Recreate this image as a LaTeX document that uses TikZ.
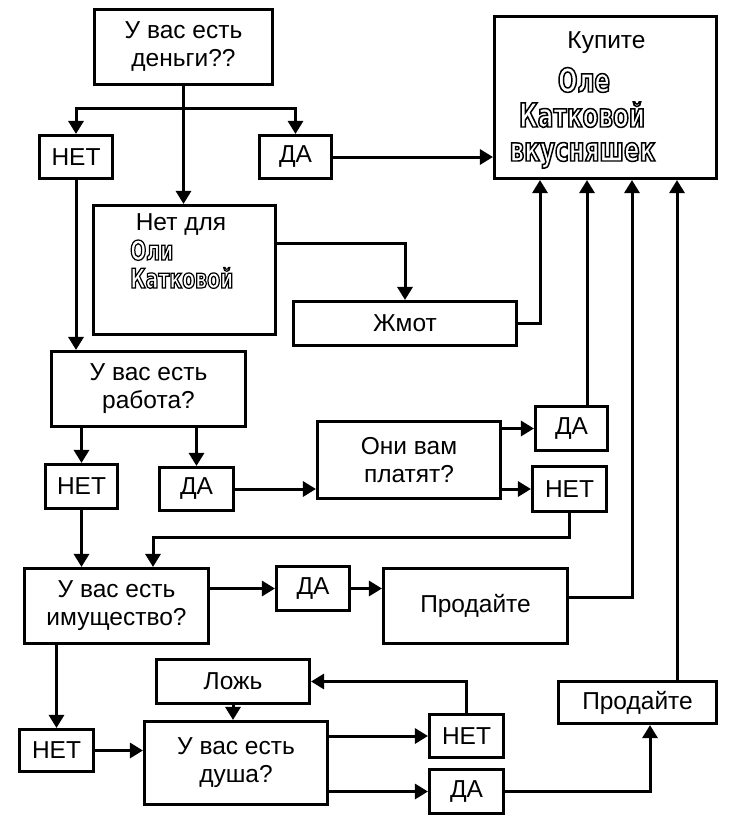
\documentclass[tikz,border=0pt]{standalone}
\usepackage{fontspec}
\setmainfont{Liberation Sans}
\newfontfamily\fatfont[FakeStretch=0.7,FakeBold=4.5]{DejaVu Sans Bold}
\newcommand\outl[1]{\special{pdf:literal direct 0 G}#1}
\usetikzlibrary{arrows.meta,scopes}

\begin{document}
\begin{tikzpicture}[x=1pt,y=-1pt,
    box/.style={draw=black,line width=3.1pt,inner sep=0pt,align=center,font=\fontsize{24.5}{28}\selectfont},
    txt/.style={inner sep=0pt,anchor=base,font=\fontsize{24.5}{28}\selectfont},
    fat/.style={inner sep=0pt,text=white,font=\fatfont\fontsize{#1}{#1}\selectfont},
    link/.style={-{Triangle[length=13pt,width=15pt]},line width=3pt},
]
    \useasboundingbox (0,0) rectangle (735,830);
    % top part
    \node[box,minimum width=178,minimum height=75] (money) at (183.5,47) {У вас есть\\деньги??};
    \node[box,minimum width=222,minimum height=162] (buy) at (605.5,97.5) {};
    \node[txt] (buyt) at (606.5,48) {Купите};
    \node[fat=33,anchor=base] (buy1) at (584,92) {\outl{Оле}};
    \node[fat=33,anchor=base] (buy2) at (582,127) {\outl{Катковой}};
    \node[fat=33,anchor=base] (buy3) at (582.5,161) {\outl{вкусняшек}};
    \node[box,minimum width=73,minimum height=43] (no1) at (76,157) {НЕТ};
    \node[box,minimum width=72,minimum height=43] (yes1) at (295.5,157) {ДА};
    \node[box,minimum width=182,minimum height=129] (notfor) at (184.5,270) {};
    \node[txt] (notfort) at (181,230) {Нет для};
    \node[fat=27,anchor=base west] (notfor1) at (130,260) {\outl{Оли}};
    \node[fat=27,anchor=base west] (notfor2) at (130,288) {\outl{Катковой}};
    \node[box,minimum width=223,minimum height=44] (stingy) at (405,323.5) {Жмот};
    % job
    \node[box,minimum width=194,minimum height=75] (job) at (148.5,389) {У вас есть\\работа?};
    \node[box,minimum width=72,minimum height=44] (no2) at (81.5,486.5) {НЕТ};
    \node[box,minimum width=74,minimum height=43] (yes2) at (196.5,489) {ДА};
    \node[box,minimum width=183,minimum height=77] (pay) at (409,460) {Они вам\\платят?};
    \node[box,minimum width=72,minimum height=44] (yes3) at (571.5,428.5) {ДА};
    \node[box,minimum width=74,minimum height=45] (no3) at (569.5,489) {НЕТ};
    % property
    \node[box,minimum width=184,minimum height=75] (prop) at (116.5,606) {У вас есть\\имущество?};
    \node[box,minimum width=73,minimum height=44] (yes4) at (313,588.5) {ДА};
    \node[box,minimum width=184,minimum height=75] (sell1) at (475.5,606) {Продайте};
    % soul
    \node[box,minimum width=153,minimum height=44] (lie) at (233,681.5) {Ложь};
    \node[box,minimum width=74,minimum height=42] (no4) at (56.5,750.5) {НЕТ};
    \node[box,minimum width=183,minimum height=83] (soul) at (236,763) {У вас есть\\душа?};
    \node[box,minimum width=74,minimum height=43] (no5) at (466.5,736) {НЕТ};
    \node[box,minimum width=74,minimum height=44] (yes5) at (466.5,791.5) {ДА};
    \node[box,minimum width=158,minimum height=42] (sell2) at (637.5,702.5) {Продайте};
    \coordinate (split) at (183.5,108);

    {[link]
        \draw (money.south) -- (money.south |- notfor.north);
        \draw (split) -| (no1.north);
        \draw (split) -| (yes1.north);
        \draw (yes1) -- (yes1 -| buy.west);
        \draw ([yshift=27pt]notfor.east) -| (stingy.north);
        \draw (stingy.east) -| ([xshift=-65.5pt]buy.south);
        \draw ([xshift=15.5pt]yes3.north) -- ([xshift=-18.5pt]buy.south);
        \draw ([yshift=9pt]sell1.east) -| ([xshift=26.5pt]buy.south);
        \draw ([xshift=39.5pt]sell2.north) -- ([xshift=71.5pt]buy.south);
        \draw (no1) -- (no1 |- job.north);
        \draw (no2 |- job.south) -- (no2);
        \draw (yes2 |- job.south) -- (yes2);
        \draw (yes2) -- (yes2 -| pay.west);
        \draw (yes3 -| pay.east) -- (yes3);
        \draw (no3 -| pay.east) -- (no3);
        \draw (no3.south) -- ++(0,24) -| ([xshift=36.5pt]prop.north);
        \draw (no2) -- (no2 |- prop.north);
        \draw (prop.east |- yes4) -- (yes4);
        \draw (yes4) -- (yes4 -| sell1.west);
        \draw (no4 |- prop.south) -- (no4);
        \draw (no4) -- (no4 -| soul.west);
        \draw (lie) -- (lie |- soul.north);
        \draw (no5 -| soul.east) -- (no5);
        \draw (yes5 -| soul.east) -- (yes5);
        \draw (no5) |- (lie);
        \draw (yes5) -| ([xshift=12.5pt]sell2.south);
    }
\end{tikzpicture}
\end{document}
